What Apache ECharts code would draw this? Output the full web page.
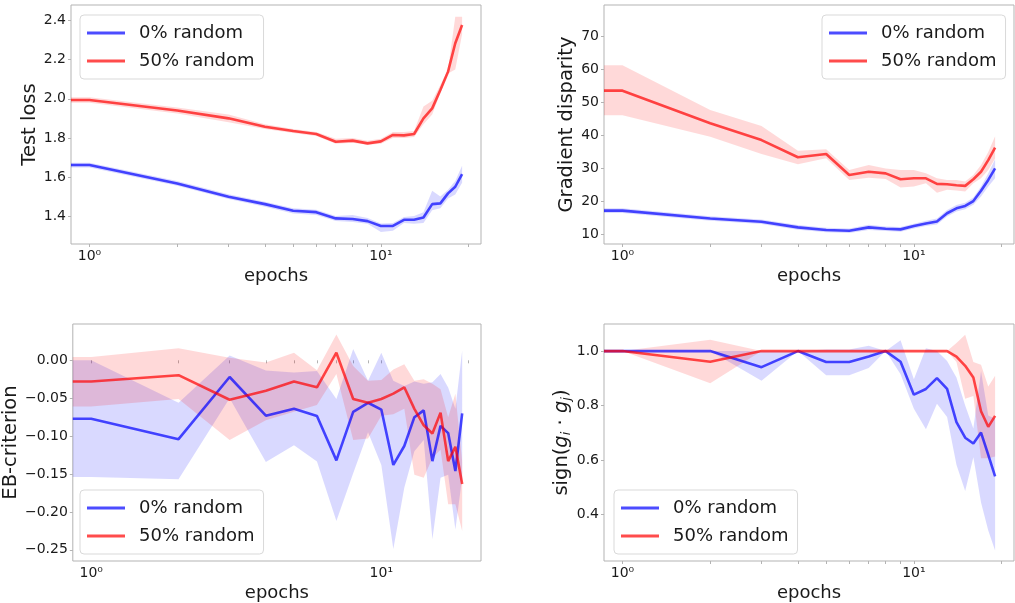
<!DOCTYPE html>
<html>
<head>
<meta charset="utf-8">
<script src="https://cdn.jsdelivr.net/npm/echarts@6/dist/echarts.min.js"></script>
<style>
html,body{margin:0;padding:0;background:#fff;}
#chart{width:1015px;height:603px;}
</style>
</head>
<body>
<div id="chart"></div>
<script>
// ---------------- data ----------------
// epoch 0 is clipped to the left edge of the log axis (as matplotlib does)
const epochs = [0,1,2,3,4,5,6,7,8,9,10,11,12,13,14,15,16,17,18,19];
const seriesNames = ['0% random', '50% random'];

// Test loss
const lossBlue   = [1.661,1.661,1.567,1.499,1.461,1.427,1.420,1.388,1.385,1.374,1.349,1.350,1.381,1.381,1.393,1.461,1.465,1.516,1.550,1.615];
const lossBlueLo = [1.648,1.648,1.555,1.487,1.448,1.413,1.405,1.375,1.370,1.360,1.318,1.325,1.365,1.360,1.365,1.430,1.440,1.490,1.510,1.570];
const lossBlueHi = [1.673,1.673,1.580,1.512,1.473,1.440,1.432,1.400,1.405,1.390,1.362,1.365,1.395,1.400,1.420,1.530,1.500,1.535,1.580,1.657];
const lossRed    = [1.994,1.994,1.940,1.900,1.857,1.835,1.820,1.780,1.786,1.772,1.782,1.815,1.813,1.820,1.900,1.951,2.045,2.139,2.284,2.378];
const lossRedLo  = [1.980,1.980,1.925,1.880,1.845,1.825,1.810,1.770,1.775,1.765,1.770,1.800,1.800,1.805,1.870,1.920,2.030,2.130,2.150,2.330];
const lossRedHi  = [2.008,2.008,1.955,1.920,1.870,1.845,1.830,1.795,1.800,1.785,1.795,1.830,1.830,1.835,1.960,1.990,2.070,2.150,2.420,2.420];

// Gradient disparity
const gdBlue   = [17.2,17.2,14.8,13.8,12.1,11.3,11.1,12.1,11.7,11.5,12.5,13.3,13.9,16.4,17.9,18.6,20.1,23.2,26.5,30.0];
const gdBlueLo = [16.5,16.5,14.1,13.1,11.4,10.6,10.4,11.3,11.0,10.8,11.8,12.5,13.0,15.4,16.9,17.6,19.0,21.5,24.5,27.0];
const gdBlueHi = [17.9,17.9,15.5,14.5,12.8,12.0,11.8,12.9,12.4,12.2,13.2,14.1,14.8,17.4,18.9,19.6,21.2,24.5,28.5,32.8];
const gdRed    = [53.6,53.6,43.7,38.6,33.4,34.4,28.0,29.0,28.5,26.7,27.0,27.0,25.3,25.2,24.9,24.7,26.7,29.0,32.5,36.3];
const gdRedLo  = [46.1,46.1,39.6,34.4,31.3,33.1,26.5,27.2,26.8,24.2,24.5,25.5,22.6,23.5,23.3,23.0,25.5,27.0,29.5,33.0];
const gdRedHi  = [61.3,61.3,47.7,42.9,35.4,35.8,29.5,31.0,30.0,29.5,29.5,28.5,27.0,26.5,26.5,26.0,28.0,31.0,35.0,39.8];

// EB-criterion
const ebBlue   = [-0.077,-0.077,-0.104,-0.022,-0.073,-0.064,-0.0735,-0.132,-0.068,-0.056,-0.065,-0.138,-0.113,-0.075,-0.066,-0.133,-0.0865,-0.096,-0.146,-0.070];
const ebBlueLo = [-0.154,-0.154,-0.157,-0.050,-0.134,-0.112,-0.1335,-0.212,-0.149,-0.095,-0.138,-0.249,-0.168,-0.120,-0.105,-0.236,-0.155,-0.151,-0.223,-0.155];
const ebBlueHi = [0.000,0.000,-0.056,0.0065,-0.0135,-0.016,-0.014,-0.051,0.015,-0.027,0.010,-0.027,-0.034,-0.028,-0.031,-0.029,-0.018,-0.036,-0.064,0.013];
const ebRed    = [-0.028,-0.028,-0.0196,-0.052,-0.040,-0.028,-0.0356,0.010,-0.051,-0.056,-0.051,-0.044,-0.0356,-0.064,-0.0857,-0.0965,-0.069,-0.133,-0.114,-0.163];
const ebRedLo  = [-0.061,-0.061,-0.051,-0.105,-0.079,-0.068,-0.059,-0.018,-0.105,-0.103,-0.073,-0.071,-0.064,-0.151,-0.155,-0.129,-0.118,-0.190,-0.190,-0.225];
const ebRedHi  = [0.0045,0.0045,0.016,0.0035,-0.003,0.010,-0.013,0.034,-0.0074,-0.027,-0.026,-0.012,-0.0052,-0.027,-0.025,-0.031,-0.038,-0.075,-0.044,-0.133];

// sign(g_i . g_j)
const sgBlue   = [1,1,1,0.941,1,0.960,0.960,0.980,1,0.961,0.840,0.861,0.901,0.861,0.739,0.682,0.661,0.701,0.619,0.540];
const sgBlueLo = [1,1,1,0.891,1,0.911,0.911,0.938,1,0.915,0.788,0.713,0.807,0.758,0.583,0.486,0.610,0.444,0.341,0.268];
const sgBlueHi = [1,1,1,1,1,1.006,1.006,1.020,1,1.040,0.897,1.010,1.000,0.964,0.903,0.800,0.716,0.927,0.764,0.752];
const sgRed    = [1,1,0.961,1,1,1,1,1,1,1,1,1,1,1,0.980,0.946,0.903,0.779,0.722,0.762];
const sgRedLo  = [1,1,0.882,1,1,1,1,1,1,1,1,1,1,1,0.960,0.825,0.835,0.607,0.607,0.613];
const sgRedHi  = [1,1,1.042,1,1,1,1,1,1,1,1,1,1,1,1.030,1.060,0.960,0.950,0.870,0.909];

// axis ticks
const xLabelTicks = [1, 10];
const xMinorTicks = [2,3,4,5,6,7,8,9,20];
const lossTicks = [1.4,1.6,1.8,2.0,2.2,2.4];
const gdTicks   = [10,20,30,40,50,60,70];
const ebTicks   = [-0.25,-0.20,-0.15,-0.10,-0.05,0.00];
const sgTicks   = [0.4,0.6,0.8,1.0];

// ---------------- styling ----------------
const X_MIN = 0.864, X_MAX = 22.06;
const BLUE = 'rgba(0,0,255,0.7)', RED = 'rgba(255,0,0,0.7)';
const BLUE_F = 'rgba(0,0,255,0.15)', RED_F = 'rgba(255,0,0,0.15)';
const FONT = 'DejaVu Sans';
const TXT = '#1a1a1a';
const FRAME = '#b3b3b3';
const YNAME = 19.5;

const xv = e => (e === 0 ? X_MIN : e);

const grids = [
  {left:71,  top:5,   width:410, height:239},
  {left:604, top:5,   width:410, height:239},
  {left:71,  top:324, width:410, height:240},
  {left:604, top:324, width:410, height:240}
];

function xAxis(i){
  return {
    type:'log', gridIndex:i, min:X_MIN, max:X_MAX, logBase:10,
    name:'epochs', nameLocation:'middle', nameGap:23,
    nameTextStyle:{fontFamily:FONT, fontSize:18, color:TXT},
    axisLine:{show:false},
    splitLine:{show:false},
    axisTick:{show:true, customValues:xLabelTicks.concat(xMinorTicks), length:3, lineStyle:{color:FRAME}},
    axisLabel:{customValues:xLabelTicks, margin:5, fontFamily:FONT, fontSize:14, color:TXT,
      formatter:v => (Math.abs(v-1)<1e-9 ? '10\u2070' : '10\u00B9')}
  };
}
function yAxis(i, name, min, max, ticks, fmt, gap, nameRich){
  const o = {
    type:'value', gridIndex:i, min:min, max:max,
    name:name, nameLocation:'middle', nameGap:gap, nameRotate:90,
    nameTextStyle:{fontFamily:FONT, fontSize:YNAME, color:TXT},
    axisLine:{show:false},
    splitLine:{show:false},
    axisTick:{show:true, customValues:ticks, length:3, lineStyle:{color:FRAME}},
    axisLabel:{customValues:ticks, margin:5, fontFamily:FONT, fontSize:14, color:TXT, formatter:fmt}
  };
  if (nameRich) o.nameTextStyle.rich = nameRich;
  return o;
}

function band(i, lo, hi, color){
  const data = epochs.map((e,k)=>[xv(e), lo[k], hi[k]]);
  return {
    type:'custom', xAxisIndex:i, yAxisIndex:i, silent:true, z:1,
    data:data, encode:{x:0, y:[1,2]},
    renderItem:(params, api) => {
      if (params.dataIndex !== 0) return null;
      const pts = [];
      for (let k=0;k<data.length;k++) pts.push(api.coord([data[k][0], data[k][2]]));
      for (let k=data.length-1;k>=0;k--) pts.push(api.coord([data[k][0], data[k][1]]));
      return {type:'polygon', shape:{points:pts}, style:{fill:color}};
    }
  };
}
function line(i, name, vals, color, z){
  return {
    type:'line', name:name, xAxisIndex:i, yAxisIndex:i, z:z,
    data:epochs.map((e,k)=>[xv(e), vals[k]]),
    symbol:'none', showSymbol:false, animation:false,
    color:color, lineStyle:{color:color, width:2.6}
  };
}
function legend(left, top){
  return {
    data:seriesNames, orient:'vertical', left:left, top:top,
    icon:'rect', itemWidth:38, itemHeight:3, itemGap:10,
    padding:[9,9,9,7],
    borderColor:'#d9d9d9', borderWidth:1, borderRadius:4, backgroundColor:'rgba(255,255,255,0.8)',
    textStyle:{fontFamily:FONT, fontSize:18, color:TXT, padding:[0,0,0,9], lineHeight:18}
  };
}

const minus = s => s.replace('-', '\u2212');

const option = {
  animation:false,
  backgroundColor:'#fff',
  grid:grids.map(g => Object.assign({show:true, borderColor:FRAME, borderWidth:1, backgroundColor:'transparent'}, g)),
  xAxis:[0,1,2,3].map(xAxis),
  yAxis:[
    yAxis(0,'Test loss',1.257,2.48,lossTicks, v=>v.toFixed(1), 28),
    yAxis(1,'Gradient disparity',7.06,79.6,gdTicks, v=>String(Math.round(v)), 23),
    yAxis(2,'EB-criterion',-0.2647,0.0479,ebTicks, v=>minus(v.toFixed(2)), 44),
    yAxis(3,'{n|sign(}{i|g}{s|i}{n| \u00B7 }{i|g}{s|j}{n|)}',0.2295,1.0994,sgTicks, v=>v.toFixed(1), 30,
      {n:{fontFamily:FONT, fontSize:YNAME, color:TXT},
       i:{fontFamily:FONT, fontSize:YNAME, color:TXT, fontStyle:'italic'},
       s:{fontFamily:FONT, fontSize:13, color:TXT, fontStyle:'italic', padding:[8,0,0,0]}})
  ],
  legend:[legend(80,15), legend(822,15), legend(80,490), legend(614,490)],
  series:[
    band(0, lossBlueLo, lossBlueHi, BLUE_F), band(0, lossRedLo, lossRedHi, RED_F),
    line(0, seriesNames[0], lossBlue, BLUE, 3), line(0, seriesNames[1], lossRed, RED, 4),
    band(1, gdBlueLo, gdBlueHi, BLUE_F), band(1, gdRedLo, gdRedHi, RED_F),
    line(1, seriesNames[0], gdBlue, BLUE, 3), line(1, seriesNames[1], gdRed, RED, 4),
    band(2, ebBlueLo, ebBlueHi, BLUE_F), band(2, ebRedLo, ebRedHi, RED_F),
    line(2, seriesNames[0], ebBlue, BLUE, 3), line(2, seriesNames[1], ebRed, RED, 4),
    band(3, sgBlueLo, sgBlueHi, BLUE_F), band(3, sgRedLo, sgRedHi, RED_F),
    line(3, seriesNames[0], sgBlue, BLUE, 3), line(3, seriesNames[1], sgRed, RED, 4)
  ]
};

const chart = echarts.init(document.getElementById('chart'), null, {renderer:'canvas'});
chart.setOption(option);
</script>
</body>
</html>
